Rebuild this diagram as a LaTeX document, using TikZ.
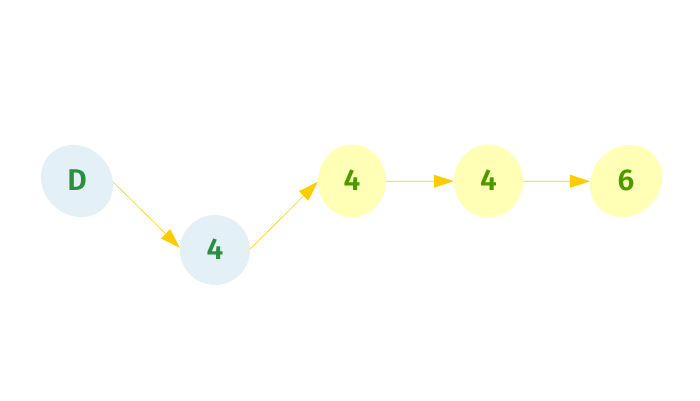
\documentclass[tikz,border=0pt]{standalone}
\usepackage{fontspec}
\setmainfont{Fira Sans}
\IfFontExistsTF{Fira Sans SemiBold}{\newfontfamily\ndfont{Fira Sans SemiBold}}{\newfontfamily\ndfont{Fira Sans}[FakeBold=1.5]}
\usetikzlibrary{arrows.meta}
\definecolor{bluefill}{HTML}{E3F0F6}
\definecolor{yelfill}{HTML}{FFFFB5}
\definecolor{darkgreen}{HTML}{2A9040}
\definecolor{litgreen}{HTML}{4A9A00}
\definecolor{edgecol}{HTML}{FFCC00}
\tikzset{
  nd/.style={circle, inner sep=0pt, font=\fontsize{30}{30}\ndfont},
  edge/.style={draw=edgecol, line width=0.6pt, -{Triangle[length=20pt,width=13pt]}}
}
\begin{document}
\begin{tikzpicture}[x=1pt,y=1pt]
\useasboundingbox (0,0) rectangle (700,-400);
% shapes
\fill[bluefill, rotate around={-45:(77,-181)}] (77,-181) ellipse [x radius=38, y radius=34];
\fill[bluefill] (215,-250) circle [radius=35];
\fill[yelfill] (352,-181) ellipse [x radius=34, y radius=36.5];
\fill[yelfill] (488.5,-181) ellipse [x radius=34.5, y radius=36.5];
\fill[yelfill, rotate around={45:(626,-181)}] (626,-181) ellipse [x radius=38, y radius=34];
% nodes
\node[nd, text=darkgreen, minimum size=72pt] (d) at (77,-180) {D};
\node[nd, text=darkgreen, minimum size=70pt] (b) at (215,-249) {4};
\node[nd, text=litgreen, minimum size=68pt] (y1) at (352,-180) {4};
\node[nd, text=litgreen, minimum size=69pt] (y2) at (488.5,-180) {4};
\node[nd, text=litgreen, minimum size=72pt] (y3) at (626,-180) {6};
% edges
\draw[edge] (d.-3) -- (b.178);
\draw[edge] (b.east) -- (y1.183);
\draw[edge] (y1.-2) -- (y2.182);
\draw[edge] (y2.-2) -- (y3.182);
\end{tikzpicture}
\end{document}
